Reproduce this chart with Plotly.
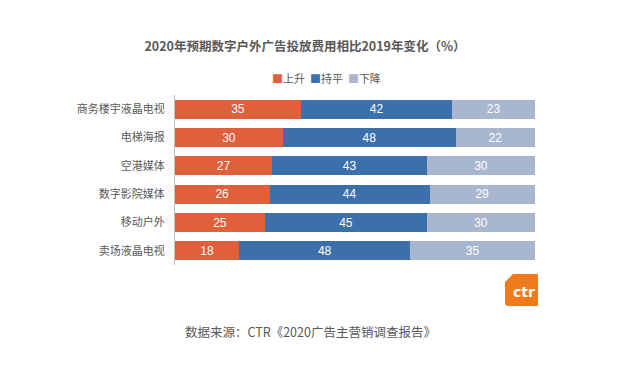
import plotly.graph_objects as go

categories = ["商务楼宇液晶电视", "电梯海报", "空港媒体", "数字影院媒体", "移动户外", "卖场液晶电视"]
up = [35, 30, 27, 26, 25, 18]
flat = [42, 48, 43, 44, 45, 48]
down = [23, 22, 30, 29, 30, 35]
series = [("上升", up, "#E0603C"), ("持平", flat, "#3C70AA"), ("下降", down, "#A8B7CF")]

FONT = "Noto Sans CJK SC, Microsoft YaHei, sans-serif"
# the page body has an 8px margin, so work in page coords minus 8
O = 8
W, H = 617 - O, 372 - O
L, R, T, B = 175 - O, 535 - O, 95 - O, 265 - O

def px(x):
    return (x - O - L) / (R - L)

def py(y):
    return (B - (y - O)) / (B - T)

fig = go.Figure()
for name, vals, color in series:
    fig.add_trace(go.Bar(
        y=categories, x=vals, name=name, orientation="h",
        marker=dict(color=color, line=dict(width=0)),
        text=[str(v) for v in vals], textposition="inside", insidetextanchor="middle",
        textangle=0, constraintext="none",
        textfont=dict(color="white", size=12, family="Liberation Sans, Arial, sans-serif"),
        hoverinfo="skip", showlegend=False,
    ))

fig.update_layout(
    barmode="stack",
    barnorm="percent",
    bargap=0.33,
    width=W, height=H,
    margin=dict(l=L, r=W - R, t=T, b=H - B),
    paper_bgcolor="white", plot_bgcolor="white",
    font=dict(family=FONT, color="#595959", size=11),
    title=dict(text="<b>2020年预期数字户外广告投放费用相比2019年变化（%）</b>",
               x=(305 - O) / W, xref="container", y=1 - (47 - O) / H, yref="container",
               yanchor="middle", xanchor="center",
               font=dict(size=12.5, color="#595959", family=FONT)),
    showlegend=False,
)
fig.update_xaxes(range=[0, 100], visible=False, fixedrange=True)
fig.update_yaxes(autorange="reversed", showline=True, linecolor="#BFBFBF", linewidth=1,
                 ticks="", showgrid=False, tickfont=dict(size=11, color="#595959"),
                 ticklabelstandoff=7, automargin=False)

# legend (manual, compact like the reference)
leg = "  ".join(f"<span style='color:{c}'>■</span><span style='color:#595959'>{n}</span>"
                for n, _, c in series)
fig.add_annotation(text=leg, xref="paper", yref="paper", x=px(326), y=py(78),
                   showarrow=False, xanchor="center", yanchor="middle",
                   font=dict(size=11, family=FONT))

# source note
fig.add_annotation(text="数据来源：CTR《2020广告主营销调查报告》", xref="paper", yref="paper",
                   x=px(310), y=py(331), showarrow=False,
                   font=dict(size=12.5, color="#595959", family=FONT),
                   xanchor="center", yanchor="middle")

# CTR logo
x0, x1, x2, x3 = px(505), px(513), px(538), px(508)
y0, y1, y2, y3 = py(274), py(282), py(306), py(303)
path = (f"M {x1},{y0} L {x2},{y0} L {x2},{y2} L {x3},{y2} "
        f"Q {x0},{y2} {x0},{y3} L {x0},{y1} Z")
fig.add_shape(type="path", xref="paper", yref="paper", path=path,
              fillcolor="#EF7B1C", line=dict(width=0), layer="above")
fig.add_annotation(text="<b>ctr</b>", xref="paper", yref="paper", x=px(524), y=py(292),
                   showarrow=False, font=dict(size=14, color="white", family="DejaVu Sans"),
                   xanchor="center", yanchor="middle")

fig.write_html("out.html")
